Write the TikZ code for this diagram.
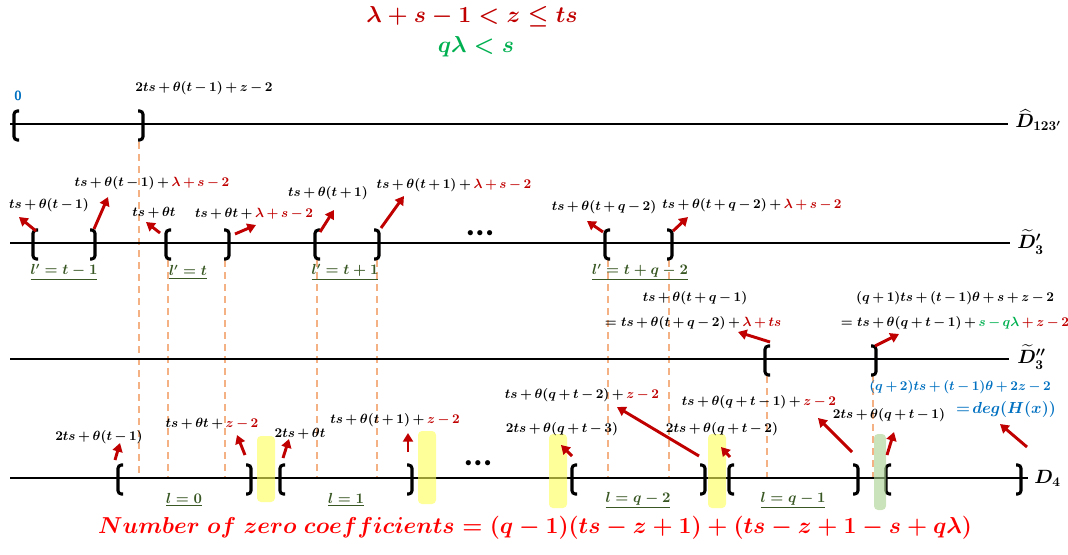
\documentclass[tikz,border=0pt]{standalone}
\usepackage{amsmath}
\usetikzlibrary{arrows.meta}
\definecolor{dred}{HTML}{C00000}
\definecolor{mygreen}{HTML}{00B050}
\definecolor{myblue}{HTML}{0070C0}
\definecolor{lgreen}{HTML}{385723}
\definecolor{dashor}{HTML}{F4B183}
\definecolor{hlyellow}{HTML}{FFFF55}
\definecolor{hlgreen}{HTML}{A9D18E}
\definecolor{bred}{HTML}{FF0000}
\tikzset{
 axis/.style={line width=1.9pt},
 brk/.style={line width=2.3pt, rounded corners=2.5pt},
 lb/.pic={\draw[brk] (5,-13) -- (0,-13) -- (0,16) -- (5,16);},
 rb/.pic={\draw[brk] (-5,-13) -- (0,-13) -- (0,16) -- (-5,16);},
 guide/.style={draw=dashor, line width=1.6pt, dash pattern=on 5pt off 4pt},
 arr/.style={draw=dred, line width=2.2pt, -{Triangle[length=6.5pt,width=7.5pt]}},
 lab/.style={font=\fontsize{10}{11}\selectfont\boldmath, inner sep=0pt, execute at begin node={\medmuskip=3mu\relax}},
 ll/.style={font=\fontsize{10.5}{12}\selectfont\boldmath, text=lgreen, inner sep=0pt},
 dlab/.style={font=\fontsize{14}{16}\selectfont\boldmath, inner sep=0pt, anchor=west},
 hl/.style={fill=hlyellow, opacity=0.6, rounded corners=3pt},
 hlg/.style={fill=hlgreen, opacity=0.6, rounded corners=3pt},
 dotsn/.style={font=\fontsize{10}{10}\selectfont, inner sep=0pt},
}
\begin{document}
\begin{tikzpicture}[x=0.75pt,y=-0.75pt]
\useasboundingbox (0,0) rectangle (1068,554);
% title
\node[font=\fontsize{18}{20}\selectfont\boldmath, text=dred, inner sep=0pt] (t1) at (472,17) {$\lambda+s-1<z\le ts$};
\node[font=\fontsize{18}{20}\selectfont\boldmath, text=mygreen, inner sep=0pt] (t2) at (476,47) {$q\lambda<s$};
% guides
\draw[guide] (139,142) -- (139,478);
\foreach \gx in {168,225,317,377,608,669} \draw[guide] (\gx,260) -- (\gx,478);
\foreach \gx in {767,873} \draw[guide] (\gx,376) -- (\gx,478);
% axes
\coordinate (a0s) at (10,124); \coordinate (a0e) at (1008,124);
\coordinate (a1s) at (10,243); \coordinate (a1e) at (1010,243);
\coordinate (a2s) at (10,359); \coordinate (a2e) at (1009,359);
\coordinate (a3s) at (10,478); \coordinate (a3e) at (1028,478);
\draw[axis] (a0s) -- (a0e);
\draw[axis] (a1s) -- (a1e);
\draw[axis] (a2s) -- (a2e);
\draw[axis] (a3s) -- (a3e);
\node[dlab] (D1) at (1015,120) {$\widehat{D}_{123'}$};
\node[dlab] (D2) at (1017,242) {${\widetilde{D}'}_{3}$};
\node[dlab] (D3) at (1017,357) {${\widetilde{D}''}_{3}$};
\node[dlab] (D4) at (1034,478) {$D_{4}$};
% brackets
\pic at (14,124) {lb}; \pic at (143,124) {rb};
\pic at (33,243) {lb}; \pic at (95,243) {rb};
\pic at (166,243) {lb}; \pic at (229,243) {rb};
\pic at (315,243) {lb}; \pic at (379,243) {rb};
\pic at (605,243) {lb}; \pic at (672,243) {rb};
\pic at (765,359) {lb}; \pic at (876,359) {rb};
\pic at (118,478) {lb}; \pic at (251,478) {rb};
\pic at (280,478) {lb}; \pic at (412,478) {rb};
\pic at (572,478) {lb}; \pic at (705,478) {rb};
\pic at (729,478) {lb}; \pic at (858,478) {rb};
\pic at (886,478) {lb}; \pic at (1021,478) {rb};
% highlights
\fill[hl] (257,436) rectangle (275,502);
\fill[hl] (418,431) rectangle (436,504);
\fill[hl] (549,434) rectangle (567,508);
\fill[hl] (708,434) rectangle (726,508);
\fill[hlg] (874,434) rectangle (886,510);
% dots
\node[dotsn] (dd1) at (480,234) {$\bullet\bullet\bullet$};
\node[dotsn] (dd2) at (478,464) {$\bullet\bullet\bullet$};
% top labels
\node[font=\sffamily\bfseries\fontsize{10}{12}\selectfont, text=myblue, inner sep=0pt] (zero) at (18,96) {0};
\node[lab] (h1) at (204,88) {$2ts+\theta(t-1)+z-2$};
% D'3 labels
\node[lab] (p1) at (49,205) {$ts+\theta(t-1)$};
\node[lab] (p2) at (152,183) {$ts+\theta(t-1)+\textcolor{dred}{\lambda+s-2}$};
\node[lab] (p3) at (154,213) {$ts+\theta t$};
\node[lab] (p4) at (254,214) {$ts+\theta t+\textcolor{dred}{\lambda+s-2}$};
\node[lab] (p5) at (328,193) {$ts+\theta(t+1)$};
\node[lab] (p6) at (454,185) {$ts+\theta(t+1)+\textcolor{dred}{\lambda+s-2}$};
\node[lab] (p7) at (604,207) {$ts+\theta(t+q-2)$};
\node[lab] (p8) at (752,205) {$ts+\theta(t+q-2)+\textcolor{dred}{\lambda+s-2}$};
\foreach \n/\sx/\sy/\ex/\ey in {1/36/231/19/217, 2/94/229/108/197, 3/160/233/146/222, 4/235/234/256/225, 5/320/232/334/210, 6/381/228/404/196, 7/603/232/587/221, 8/673/231/688/217}{
  \coordinate (ps\n) at (\sx,\sy); \coordinate (pe\n) at (\ex,\ey);
  \draw[arr] (ps\n) -- (pe\n);
}
\node[ll] (lp1) at (64,272) {$\underline{l'=t-1}$};
\node[ll] (lp2) at (188,272) {$\underline{l'=t}$};
\node[ll] (lp3) at (345,272) {$\underline{l'=t+1}$};
\node[ll] (lp4) at (640,272) {$\underline{l'=t+q-2}$};
% D''3 labels
\node[lab] (m1) at (695,298) {$ts+\theta(t+q-1)$};
\node[lab] (m2) at (693,323) {$=ts+\theta(t+q-2)+\textcolor{dred}{\lambda+ts}$};
\node[lab] (m3) at (955,298) {$(q+1)ts+(t-1)\theta+s+z-2$};
\node[lab] (m4) at (955,323) {$=ts+\theta(q+t-1)+\textcolor{mygreen}{s-q\lambda}\mathbin{\color{dred}+}\textcolor{dred}{z-2}$};
\node[lab, text=myblue] (b1) at (960,387) {$(q+2)ts+(t-1)\theta+2z-2$};
\node[lab, font=\fontsize{12}{13}\selectfont\boldmath, text=myblue] (b2) at (1006,409) {$=\!deg(H(x))$};
\foreach \n/\sx/\sy/\ex/\ey in {9/770/342/738/332, 10/875/346/899/334, 11/1027/447/1000/424}{
  \coordinate (ms\n) at (\sx,\sy); \coordinate (me\n) at (\ex,\ey);
  \draw[arr] (ms\n) -- (me\n);
}
% D4 labels
\node[lab] (n1) at (99,437) {$2ts+\theta(t-1)$};
\node[lab] (n2) at (212,424) {$ts+\theta t+\textcolor{dred}{z-2}$};
\node[lab] (n3) at (300,434) {$2ts+\theta t$};
\node[lab] (n4) at (395,420) {$ts+\theta(t+1)+\textcolor{dred}{z-2}$};
\node[lab] (n5) at (582,395) {$ts+\theta(q+t-2)+\textcolor{dred}{z-2}$};
\node[lab] (n6) at (562,429) {$2ts+\theta(q+t-3)$};
\node[lab] (n7) at (722,429) {$2ts+\theta(q+t-2)$};
\node[lab] (n8) at (759,402) {$ts+\theta(q+t-1)+\textcolor{dred}{z-2}$};
\node[lab] (n9) at (889,415) {$2ts+\theta(q+t-1)$};
\foreach \n/\sx/\sy/\ex/\ey in {12/115/460/120/443, 13/245/455/237/435, 14/283/458/289/439, 15/408/452/408/433, 16/699/456/617/407, 17/572/456/561/445, 18/730/457/721/447, 19/852/452/818/418, 20/887/455/894/432}{
  \coordinate (ns\n) at (\sx,\sy); \coordinate (ne\n) at (\ex,\ey);
  \draw[arr] (ns\n) -- (ne\n);
}
\node[ll] (l0) at (184,500) {$\underline{l=0}$};
\node[ll] (l1) at (346,500) {$\underline{l=1}$};
\node[ll] (l2) at (638,500) {$\underline{l=q-2}$};
\node[ll] (l3) at (793,500) {$\underline{l=q-1}$};
% bottom
\node[font=\fontsize{18.5}{20}\selectfont\boldmath, text=bred, inner sep=0pt] (bot) at (535,528) {$Number\ of\ zero\ coefficients=(q-1)(ts-z+1)+(ts-z+1-s+q\lambda)$};
\end{tikzpicture}
\end{document}
